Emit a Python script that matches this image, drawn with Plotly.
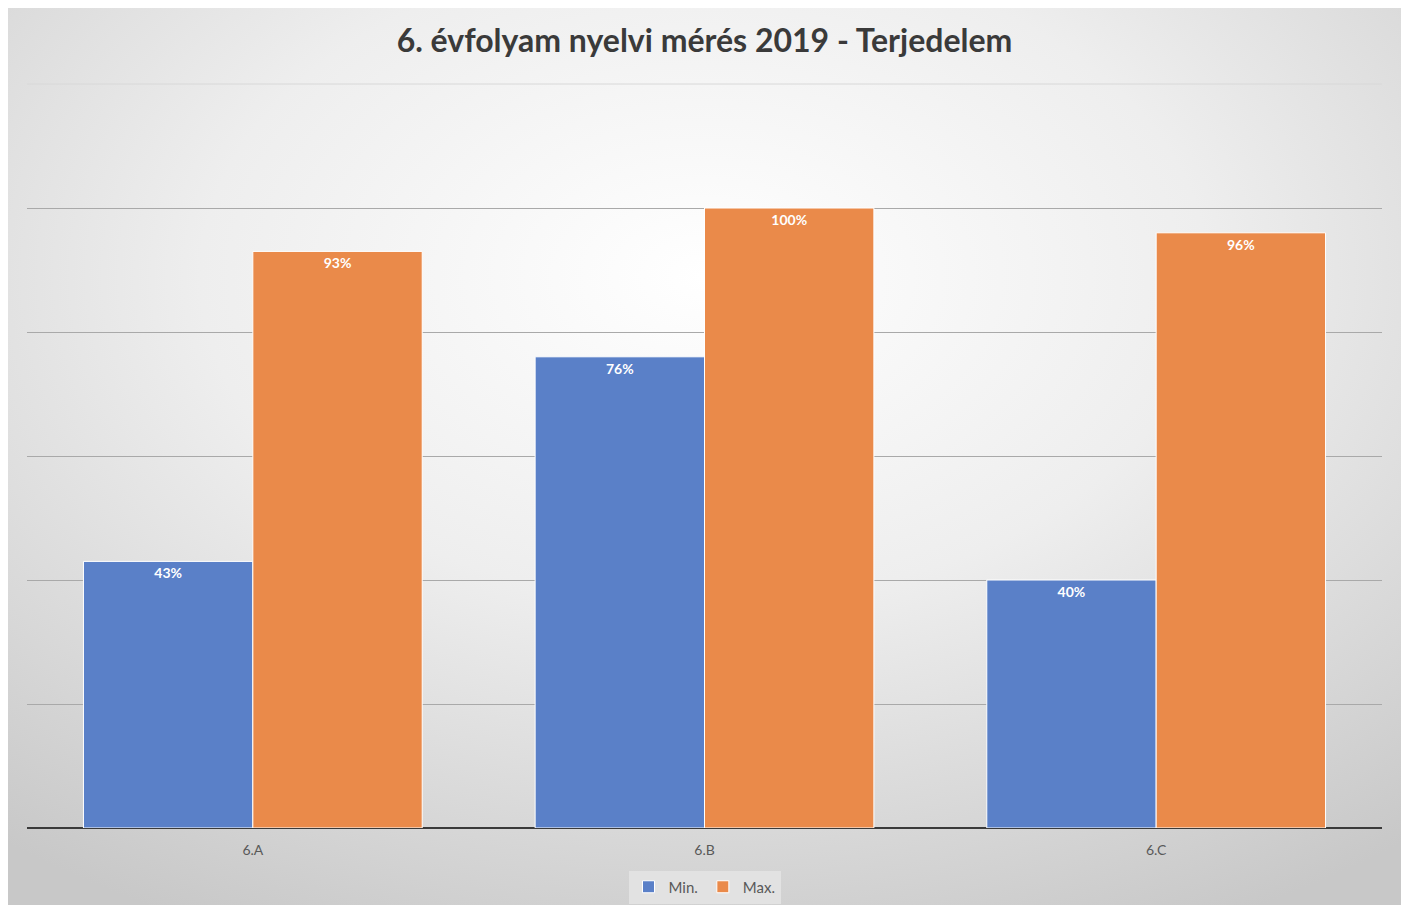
import plotly.graph_objects as go

categories = ["6.A", "6.B", "6.C"]
min_values = [0.43, 0.76, 0.40]
max_values = [0.93, 1.00, 0.96]
series_names = ["Min.", "Max."]
title_text = "6. évfolyam nyelvi mérés 2019 - Terjedelem"

OFF = 8  # page body margin
W, H = 1409 - 2 * OFF, 913 - 2 * OFF
L = 27 - OFF
T = 84 - OFF
R = W - (1382 - OFF)
B = H - (828 - OFF)
pw, ph = W - L - R, H - T - B

def px_x(ax):
    return (ax - OFF - L) / pw

def px_y(ay):
    return (H - B - (ay - OFF)) / ph

svg = ("data:image/svg+xml;utf8,"
       "<svg xmlns='http://www.w3.org/2000/svg' width='1398' height='907' preserveAspectRatio='none'>"
       "<defs><radialGradient id='g' cx='50%' cy='30%' r='80%'>"
       "<stop offset='0' stop-color='%23ffffff'/><stop offset='0.45' stop-color='%23eeeeee'/>"
       "<stop offset='1' stop-color='%23c8c8c8'/></radialGradient></defs>"
       "<rect width='1398' height='907' fill='url(%23g)'/></svg>")

fig = go.Figure()
fig.add_bar(x=categories, y=min_values, name=series_names[0],
            marker=dict(color="#5a80c8", line=dict(color="#ffffff", width=1)),
            texttemplate="<b>%{y:.0%}</b>", textposition="inside",
            insidetextanchor="end", textangle=0,
            textfont=dict(color="#ffffff", size=14, family="Lato"))
fig.add_bar(x=categories, y=max_values, name=series_names[1],
            marker=dict(color="#ea8a4a", line=dict(color="#ffffff", width=1)),
            texttemplate="<b>%{y:.0%}</b>", textposition="inside",
            insidetextanchor="end", textangle=0,
            textfont=dict(color="#ffffff", size=14, family="Lato"))

fig.update_layout(
    width=W, height=H, autosize=False,
    margin=dict(l=L, r=R, t=T, b=B, pad=0, autoexpand=False),
    paper_bgcolor="#ffffff", plot_bgcolor="rgba(0,0,0,0)",
    barmode="group", bargap=0.25, bargroupgap=0,
    title=dict(text="<b>" + title_text + "</b>", x=0.5, xanchor="center",
               y=1 - (41 - OFF) / H, yanchor="middle",
               font=dict(family="Lato", size=32, color="#3a3a3a")),
    font=dict(family="Lato", color="#595959"),
    xaxis=dict(showgrid=False, ticks="outside", ticklen=9, tickcolor="rgba(0,0,0,0)",
               tickfont=dict(size=14, color="#595959"), automargin=False,
               showline=False, zeroline=False),
    yaxis=dict(range=[0, 1.2], dtick=0.2, showticklabels=False, automargin=False,
               showgrid=True, gridcolor="#a9a9a9", gridwidth=1,
               zeroline=True, zerolinecolor="#3a3a3a", zerolinewidth=2,
               showline=False),
    legend=dict(orientation="h", x=0.5, xanchor="center", y=px_y(887), yanchor="middle",
                bgcolor="#e2e2e2", font=dict(size=15, color="#595959"),
                itemwidth=30, traceorder="normal"),
    images=[dict(source=svg, xref="paper", yref="paper",
                 x=px_x(5), y=px_y(4), sizex=px_x(1403) - px_x(5),
                 sizey=px_y(4) - px_y(911), sizing="stretch",
                 xanchor="left", yanchor="top", layer="below")],
    shapes=[dict(type="rect", xref="paper", yref="paper",
                 x0=px_x(5), x1=px_x(1403), y0=px_y(911), y1=px_y(4),
                 line=dict(color="#cfcfcf", width=1), layer="below"),
            dict(type="line", xref="paper", yref="paper", x0=0, x1=1, y0=1, y1=1,
                 line=dict(color="#d8d8d8", width=1), layer="below")],
)

fig.write_html("out.html")
